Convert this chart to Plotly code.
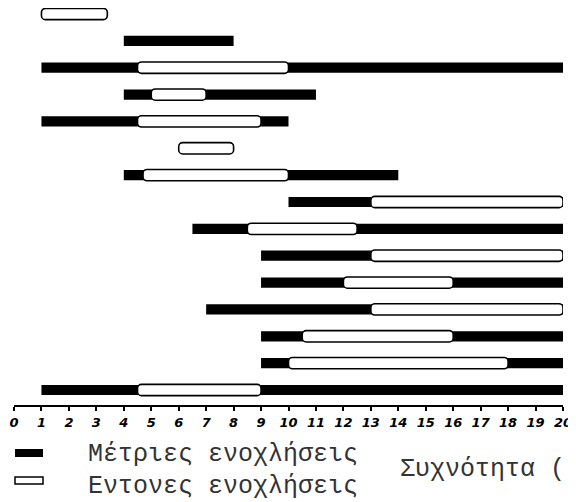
import plotly.graph_objects as go

# Rows from top to bottom (15 rows)
rows = list(range(15))
moderate_start = [None, 4, 1, 4, 1, None, 4, 10, 6.5, 9, 9, 7, 9, 9, 1]
moderate_end = [None, 8, 20, 11, 10, None, 14, 20, 20, 20, 20, 20, 20, 20, 20]
intense_start = [1, None, 4.5, 5, 4.5, 6, 4.7, 13, 8.5, 13, 12, 13, 10.5, 10, 4.5]
intense_end = [3.4, None, 10, 7, 9, 8, 10, 20, 12.5, 20, 16, 20, 16, 18, 9]
tick_vals = list(range(0, 21))
tick_text = [str(v) for v in tick_vals]

legend_moderate = "Μέτριες ενοχλήσεις"
legend_intense = "Εντονες ενοχλήσεις"
axis_title = "Συχνότητα ("


def lengths(s, e):
    return [None if a is None else b - a for a, b in zip(s, e)]


fig = go.Figure()
fig.add_trace(go.Bar(
    y=rows, x=lengths(moderate_start, moderate_end), base=moderate_start,
    orientation="h", width=0.38,
    marker=dict(color="black", line=dict(width=0)),
    name=legend_moderate, showlegend=False, hoverinfo="skip",
))
fig.add_trace(go.Bar(
    y=rows, x=lengths(intense_start, intense_end), base=intense_start,
    orientation="h", width=0.42,
    marker=dict(color="white", line=dict(color="black", width=1.6), cornerradius=4),
    name=legend_intense, showlegend=False, hoverinfo="skip",
))

OFF = 8  # page body margin
W, H = 576 - OFF, 502 - OFF
L, T = 14 - OFF, 0
plot_right = 563 - OFF
plot_bottom = 405 - OFF
R = W - plot_right
B = H - plot_bottom
ph = plot_bottom - T
pw = plot_right - L

row_step = (390 - 14) / 14.0
y_top = -((14 - OFF) / row_step)
y_bottom = (405 - 14) / row_step


def px(x):
    return (x - OFF - L) / pw


def py(y):
    return (plot_bottom - (y - OFF)) / ph


shapes = [
    dict(type="rect", xref="paper", yref="paper", x0=px(15), x1=px(43), y0=py(449), y1=py(457),
         fillcolor="black", line=dict(width=0)),
    dict(type="rect", xref="paper", yref="paper", x0=px(15), x1=px(43), y0=py(477), y1=py(484),
         fillcolor="white", line=dict(color="black", width=1.5)),
]

font_txt = dict(family="Liberation Mono", size=25, color="#333")
annotations = [
    dict(text=legend_moderate, xref="paper", yref="paper", x=px(86), y=py(454),
         xanchor="left", yanchor="middle", showarrow=False, font=font_txt),
    dict(text=legend_intense, xref="paper", yref="paper", x=px(86), y=py(486),
         xanchor="left", yanchor="middle", showarrow=False, font=font_txt),
    dict(text=axis_title, xref="paper", yref="paper", x=px(398), y=py(469),
         xanchor="left", yanchor="middle", showarrow=False, font=font_txt),
]

fig.update_layout(
    width=W, height=H,
    margin=dict(l=L, r=R, t=T, b=B),
    barmode="overlay",
    plot_bgcolor="white", paper_bgcolor="white",
    shapes=shapes, annotations=annotations,
    xaxis=dict(
        range=[0, 20], tickmode="array", tickvals=tick_vals, ticktext=tick_text,
        showgrid=False, zeroline=False, showline=True, linecolor="black", linewidth=2,
        ticks="outside", ticklen=4, tickwidth=1.5, tickcolor="black",
        tickfont=dict(family="DejaVu Sans", size=13, color="black", style="italic", weight="bold"),
        fixedrange=True,
    ),
    yaxis=dict(
        range=[y_bottom, y_top], showgrid=False, zeroline=False, showline=False,
        showticklabels=False, ticks="", fixedrange=True,
    ),
)

fig.write_html("out.html")
